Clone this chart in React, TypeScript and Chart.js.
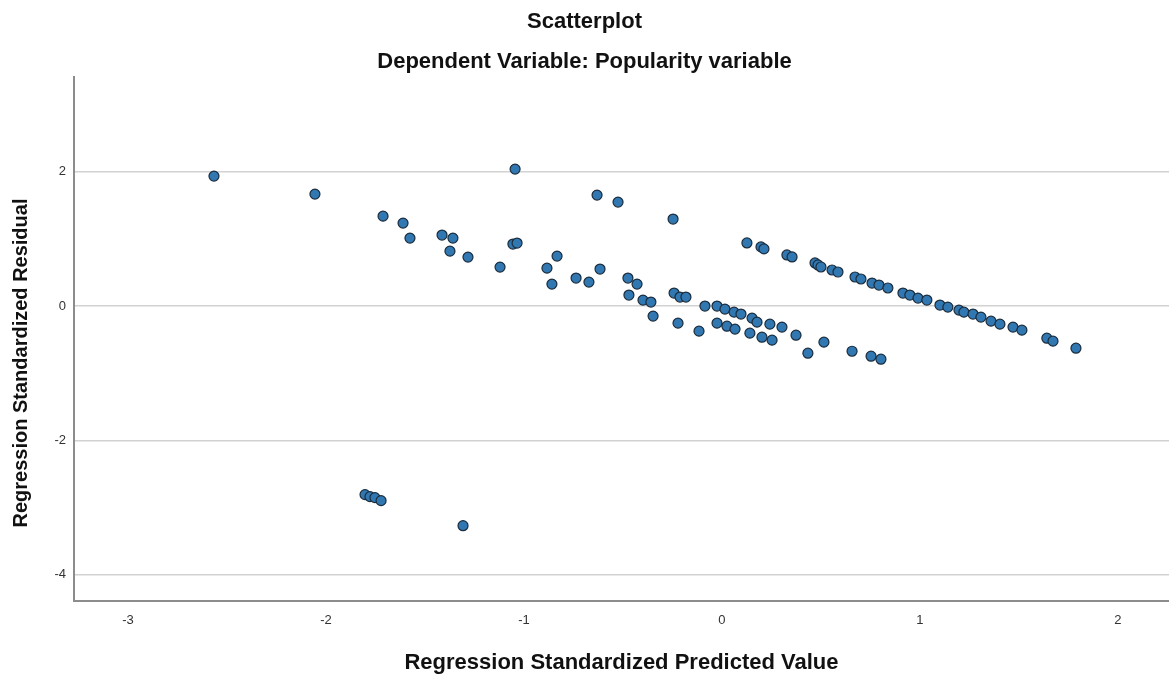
import React, { useEffect, useRef } from "react";
import { Chart, registerables } from "chart.js";

Chart.register(...registerables);

const titleText = "Scatterplot";
const subtitleText = "Dependent Variable: Popularity variable";
const xTitle = "Regression Standardized Predicted Value";
const yTitle = "Regression Standardized Residual";

const xTicks = [-3, -2, -1, 0, 1, 2];
const yTicks = [-4, -2, 0, 2];

// Regression standardized predicted values
const predicted = [
  -2.566, -2.056, -1.712, -1.611, -1.576, -1.414, -1.359, -1.374, -1.283, -1.121,
  -1.045, -1.056, -1.035, -0.884, -0.833, -0.859, -0.737, -0.672, -0.616, -0.631,
  -0.525, -0.247, -0.475, -0.429, -0.470, -0.399, -0.359, -0.348, -0.242, -0.212,
  -0.182, -0.222, -0.116, -0.086, -0.025, 0.015, 0.061, 0.096, 0.152, 0.177,
  0.242, 0.303, 0.374, -0.025, 0.025, 0.066, 0.141, 0.202, 0.253, 0.434,
  0.515, 0.657, 0.753, 0.803, 0.126, 0.197, 0.212, 0.328, 0.354, 0.470,
  0.485, 0.500, 0.556, 0.586, 0.672, 0.702, 0.758, 0.793, 0.838, 0.914,
  0.949, 0.990, 1.035, 1.101, 1.141, 1.197, 1.222, 1.268, 1.308, 1.359,
  1.404, 1.470, 1.515, 1.641, 1.672, 1.788, -1.803, -1.778, -1.753, -1.722,
  -1.308,
];

// Regression standardized residuals
const residual = [
  1.935, 1.667, 1.339, 1.235, 1.012, 1.057, 1.012, 0.818, 0.729, 0.580,
  2.039, 0.923, 0.938, 0.565, 0.744, 0.327, 0.417, 0.357, 0.551, 1.652,
  1.548, 1.295, 0.417, 0.327, 0.164, 0.089, 0.060, -0.149, 0.194, 0.134,
  0.134, -0.254, -0.373, 0.000, 0.000, -0.045, -0.090, -0.119, -0.179, -0.239,
  -0.269, -0.313, -0.433, -0.254, -0.299, -0.343, -0.403, -0.463, -0.507, -0.701,
  -0.537, -0.672, -0.746, -0.791, 0.940, 0.881, 0.851, 0.761, 0.731, 0.642,
  0.612, 0.582, 0.537, 0.507, 0.433, 0.403, 0.343, 0.313, 0.269, 0.194,
  0.164, 0.119, 0.090, 0.015, -0.015, -0.060, -0.090, -0.119, -0.164, -0.224,
  -0.269, -0.313, -0.358, -0.478, -0.522, -0.627, -2.806, -2.836, -2.851, -2.896,
  -3.269,
];

const FONT = "'Liberation Sans', Arial, sans-serif";

const yTitlePlugin = {
  id: "yTitlePlugin",
  afterDraw(chart: any) {
    const ctx = chart.ctx as CanvasRenderingContext2D;
    ctx.save();
    ctx.translate(21, 363);
    ctx.rotate(-Math.PI / 2);
    ctx.font = `bold 20px ${FONT}`;
    ctx.fillStyle = "#111";
    ctx.textAlign = "center";
    ctx.textBaseline = "middle";
    ctx.fillText(yTitle, 0, 0);
    ctx.restore();
  },
};

export default function App() {
  const canvasRef = useRef<HTMLCanvasElement | null>(null);

  useEffect(() => {
    const canvas = canvasRef.current;
    if (!canvas) return;
    const points = predicted.map((x, i) => ({ x, y: residual[i] }));
    const chart = new Chart(canvas, {
      type: "scatter",
      data: {
        datasets: [
          {
            data: points,
            backgroundColor: "#3178b2",
            borderColor: "#1b2c3c",
            borderWidth: 1.2,
            pointRadius: 5,
            pointHoverRadius: 5,
          },
        ],
      },
      plugins: [yTitlePlugin],
      options: {
        animation: false,
        responsive: false,
        events: [],
        layout: { autoPadding: false, padding: { left: 0, right: 0, top: 0, bottom: 0 } },
        plugins: {
          legend: { display: false },
          tooltip: { enabled: false },
          title: {
            display: true,
            text: titleText,
            color: "#111",
            font: { family: FONT, size: 22, weight: "bold", lineHeight: 1.2 },
            padding: { top: 8.4, bottom: 6 },
          },
          subtitle: {
            display: true,
            text: subtitleText,
            color: "#111",
            font: { family: FONT, size: 22, weight: "bold", lineHeight: 1.2 },
            padding: { top: 7.8, bottom: 2 },
          },
        },
        scales: {
          x: {
            type: "linear",
            min: -3.273,
            max: 2.258,
            afterBuildTicks: (scale: any) => {
              scale.ticks = xTicks.map((v) => ({ value: v }));
            },
            afterFit: (scale: any) => {
              scale.height = 74;
            },
            grid: { display: false, drawTicks: false },
            border: { display: true, color: "#8c8c8c", width: 2 },
            ticks: {
              color: "#333",
              font: { family: FONT, size: 13 },
              padding: 12,
              maxRotation: 0,
            },
            title: {
              display: true,
              text: xTitle,
              color: "#111",
              font: { family: FONT, size: 22, weight: "bold", lineHeight: 1.2 },
              padding: { top: 0, bottom: -1.5 },
            },
          },
          y: {
            type: "linear",
            min: -4.39,
            max: 3.41,
            afterBuildTicks: (scale: any) => {
              scale.ticks = yTicks.map((v) => ({ value: v }));
            },
            afterFit: (scale: any) => {
              scale.width = 74;
            },
            grid: { display: true, drawTicks: false, color: "#d2d2d2", lineWidth: 1.5 },
            border: { display: true, color: "#8c8c8c", width: 2 },
            ticks: {
              color: "#333",
              font: { family: FONT, size: 13 },
              padding: 8,
            },
            title: { display: false },
          },
        },
      },
    });
    return () => chart.destroy();
  }, []);

  return (
    <div style={{ position: "absolute", left: 0, top: 0, width: 1169, height: 675, background: "#fff" }}>
      <canvas ref={canvasRef} width={1169} height={675} style={{ display: "block" }} />
    </div>
  );
}
